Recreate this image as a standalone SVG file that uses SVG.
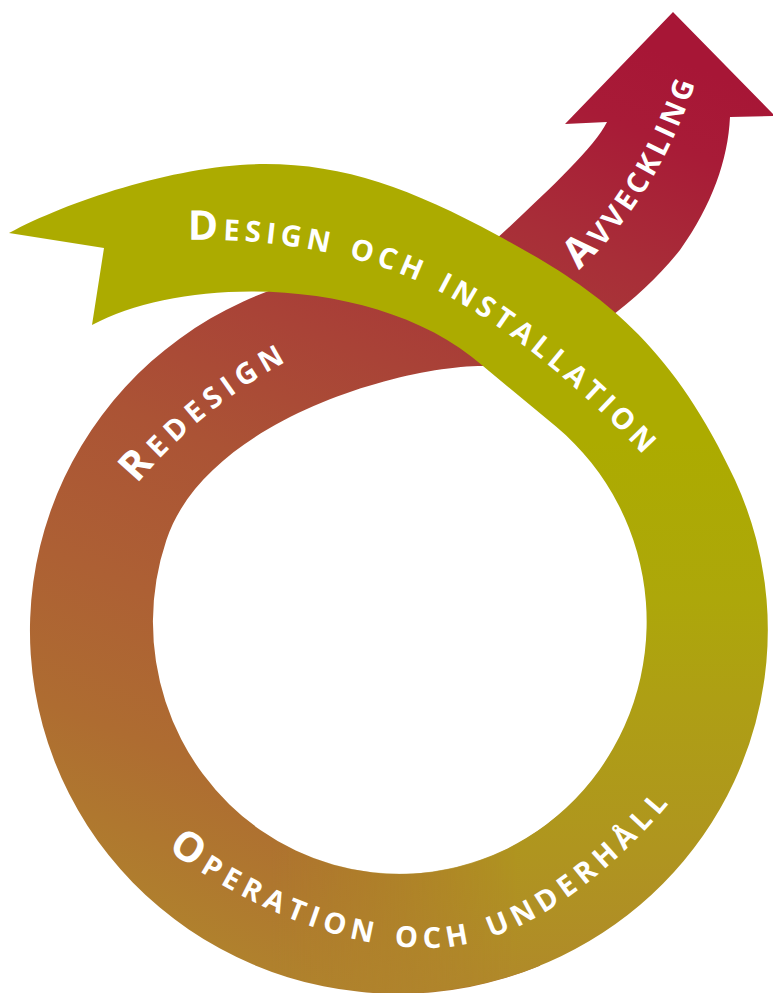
<svg xmlns="http://www.w3.org/2000/svg" width="773" height="993" viewBox="0 0 773 993">
  <defs>
    <style>
      .lbl { fill: #ffffff; font-family: "Open Sans", "Liberation Sans", sans-serif; font-weight: 700; font-size: 41px; font-variant: small-caps; }
    </style>
    <linearGradient id="gRed" gradientUnits="userSpaceOnUse" x1="300" y1="990" x2="680" y2="60">
      <stop offset="0" stop-color="#b0822d"/>
      <stop offset="0.17" stop-color="#ae6c31"/>
      <stop offset="0.31" stop-color="#ad6034"/>
      <stop offset="0.47" stop-color="#ab5335"/>
      <stop offset="0.61" stop-color="#a94337"/>
      <stop offset="0.79" stop-color="#a82e38"/>
      <stop offset="0.92" stop-color="#a81b37"/>
      <stop offset="1" stop-color="#a71636"/>
    </linearGradient>
    <linearGradient id="gGreen" gradientUnits="userSpaceOnUse" x1="0" y1="440" x2="0" y2="990">
      <stop offset="0" stop-color="#acab00"/>
      <stop offset="0.29" stop-color="#ada70a"/>
      <stop offset="0.47" stop-color="#ae9f14"/>
      <stop offset="0.745" stop-color="#af951f"/>
      <stop offset="1" stop-color="#b0892a"/>
    </linearGradient>
    <linearGradient id="gFade" gradientUnits="userSpaceOnUse" x1="270" y1="0" x2="520" y2="0">
      <stop offset="0" stop-color="#000000"/>
      <stop offset="1" stop-color="#ffffff"/>
    </linearGradient>
    <mask id="mFade" maskUnits="userSpaceOnUse" x="0" y="0" width="773" height="993">
      <rect x="0" y="0" width="773" height="480" fill="#ffffff"/>
      <rect x="0" y="480" width="773" height="513" fill="url(#gFade)"/>
    </mask>
    <path id="p-design" d="M 188,240 C 260,238 350,250 420,282 C 490,314 570,375 650,462"/>
    <path id="p-avveckling" d="M 579,270 C 620,232 665,175 700,70"/>
    <path id="p-redesign" d="M 137,484 C 165,450 225,390 305,352"/>
    <path id="p-operation" d="M 167,850 C 251,908 340,948 430,948 C 520,948 610,874 672,800"/>
  </defs>

  <g id="loop-redesign-avveckling">
    <path fill="url(#gRed)" d="M 673,12 L 775,116 L 730,117 C 728,160 712,205 680,250 C 660,275 636,298 606,320 L 560,352 L 483,366 C 400,366 206,421 166.4,540 A 247 252 0 0 0 560,814 L 540,965.7 A 368 363 0 1 1 277,288 C 312,276 455,270 490,245 C 540,198 593,150 607,122 L 565,124 Z"/>
  </g>

  <g id="ribbon-design-operation">
    <path fill="url(#gGreen)" mask="url(#mFade)" d="M 9,233 C 70,200 180,164 265,164 C 345,164 412,189 497,235 C 585,283 666.6,331.5 735,480 A 368 363 0 0 1 150,896.4 L 227,801.9 A 247 252 0 1 0 556,426.6 L 483,366 C 380,275 185,275 92,325 L 104,248 Z"/>
  </g>

  <g id="label-design">
    <text class="lbl" letter-spacing="4.9"><textPath href="#p-design">Design och installation</textPath></text>
  </g>
  <g id="label-avveckling">
    <text class="lbl" letter-spacing="3.5"><textPath href="#p-avveckling">Avveckling</textPath></text>
  </g>
  <g id="label-redesign">
    <text class="lbl" letter-spacing="6.1"><textPath href="#p-redesign">Redesign</textPath></text>
  </g>
  <g id="label-operation">
    <text class="lbl" letter-spacing="5.9"><textPath href="#p-operation">Operation och underhåll</textPath></text>
  </g>
</svg>
